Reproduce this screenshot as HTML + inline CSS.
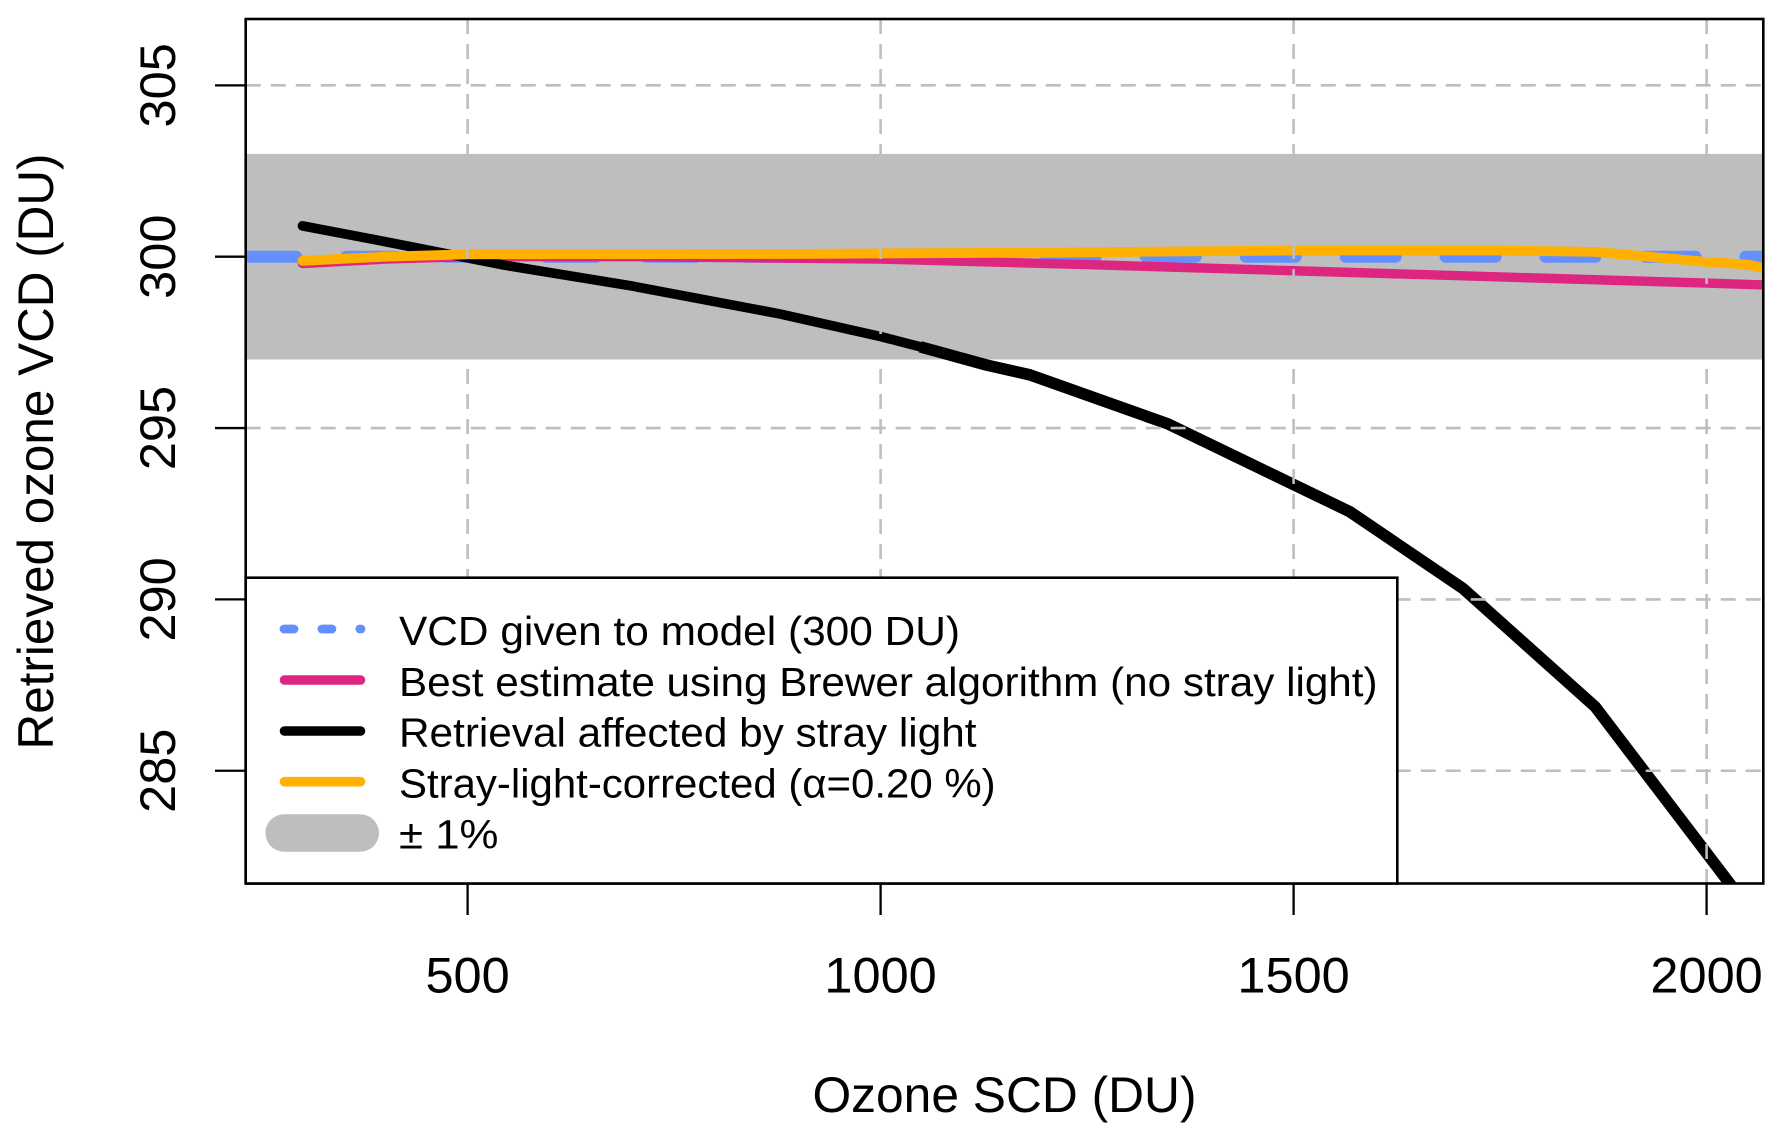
<!DOCTYPE html>
<html lang="en">
<head>
<meta charset="utf-8">
<title>Retrieved ozone VCD vs ozone SCD</title>
<style>
  html, body { margin: 0; padding: 0; background: #fff; }
  svg { display: block; }
  text { font-family: "Liberation Sans", Arial, sans-serif; fill: #000; }
</style>
</head>
<body>
<svg id="chart" xmlns="http://www.w3.org/2000/svg" width="1783" height="1142" viewBox="0 0 1783 1142">
  <defs>
    <clipPath id="plot-clip"><rect x="245.7" y="19" width="1517.6" height="864.5"></rect></clipPath>
  </defs>
  <rect x="0" y="0" width="1783" height="1142" fill="#fff"></rect>
  <g id="band-layer" clip-path="url(#plot-clip)"></g>
  <g id="series-layer" clip-path="url(#plot-clip)"></g>
  <g id="grid-layer"></g>
  <rect x="245.7" y="19" width="1517.6" height="864.5" fill="none" stroke="#000" stroke-width="2.6"></rect>
  <g id="axis-layer"></g>
  <text x="1004.5" y="1112" font-size="50.5" text-anchor="middle" textLength="384" lengthAdjust="spacingAndGlyphs">Ozone SCD (DU)</text>
  <text transform="translate(53,451.5) rotate(-90)" font-size="50" text-anchor="middle" textLength="596" lengthAdjust="spacingAndGlyphs">Retrieved ozone VCD (DU)</text>

  <g>
    <rect x="245.7" y="577.7" width="1151.6" height="305.8" fill="#fff" stroke="#000" stroke-width="2.6"></rect>
    <line x1="284" y1="629" x2="361" y2="629" stroke="#648FFF" stroke-width="8.8" stroke-linecap="round" stroke-dasharray="10 27.9"></line>
    <line x1="284.5" y1="680" x2="360.5" y2="680" stroke="#DC267F" stroke-width="9.6" stroke-linecap="round"></line>
    <line x1="284.5" y1="731" x2="360.5" y2="731" stroke="#000" stroke-width="9.6" stroke-linecap="round"></line>
    <line x1="284.5" y1="781.7" x2="360.5" y2="781.7" stroke="#FFB000" stroke-width="9.6" stroke-linecap="round"></line>
    <line x1="284.1" y1="833" x2="360.3" y2="833" stroke="#BEBEBE" stroke-width="37.4" stroke-linecap="round"></line>
    <text x="399" y="645" font-size="41" textLength="561" lengthAdjust="spacingAndGlyphs">VCD given to model (300 DU)</text>
    <text x="399" y="696" font-size="41" textLength="978.6" lengthAdjust="spacingAndGlyphs">Best estimate using Brewer algorithm (no stray light)</text>
    <text x="399" y="746.7" font-size="41" textLength="577.5" lengthAdjust="spacingAndGlyphs">Retrieval affected by stray light</text>
    <text x="399" y="797.3" font-size="41" textLength="596.6" lengthAdjust="spacingAndGlyphs">Stray-light-corrected (α=0.20 %)</text>
    <text x="399" y="848.3" font-size="41" textLength="99.5" lengthAdjust="spacingAndGlyphs">± 1%</text>
  </g>
</svg>
<script>
const xTickValues = [500, 1000, 1500, 2000];
const yTickValues = [285, 290, 295, 300, 305];
const xTickLabels = ["500", "1000", "1500", "2000"];
const yTickLabels = ["285", "290", "295", "300", "305"];

const modelScd = [232, 2068];
const modelVcd = [300, 300];

const brewerScd = [300, 400, 500, 700, 1000, 1250, 1500, 1750, 2000, 2100];
const brewerVcd = [299.80, 299.93, 300.00, 300.00, 299.93, 299.77, 299.59, 299.41, 299.23, 299.15];

const strayScd = [300, 400, 543, 700, 878, 1000, 1048, 1128, 1181, 1348, 1568, 1705, 1865, 2028, 2100];
const strayVcd = [300.90, 300.44, 299.76, 299.14, 298.33, 297.67, 297.37, 296.84, 296.55, 295.12, 292.56, 290.32, 286.87, 281.71, 279.4];

const correctedScd = [300, 400, 500, 900, 1200, 1500, 1750, 1865, 2000, 2050, 2100];
const correctedVcd = [299.88, 300.00, 300.07, 300.08, 300.12, 300.18, 300.18, 300.14, 299.85, 299.77, 299.50];

const bandLimits = [297, 303];

const NS = "http://www.w3.org/2000/svg";
const plot = { left: 245.7, right: 1763.3, top: 19, bottom: 883.5 };
const xScale = v => 467.6 + (v - 500) * 0.826;
const yScale = v => 256.7 + (300 - v) * 34.27;

function make(parent, tag, attrs) {
  const el = document.createElementNS(NS, tag);
  for (const k in attrs) el.setAttribute(k, attrs[k]);
  parent.appendChild(el);
  return el;
}
function pathFrom(xs, ys) {
  return xs.map((x, i) => (i ? "L" : "M") + xScale(x).toFixed(2) + " " + yScale(ys[i]).toFixed(2)).join(" ");
}

const bandLayer = document.getElementById("band-layer");
const seriesLayer = document.getElementById("series-layer");
const gridLayer = document.getElementById("grid-layer");
const axisLayer = document.getElementById("axis-layer");

const band = make(bandLayer, "rect", {
  x: plot.left, width: plot.right - plot.left,
  y: yScale(bandLimits[1]), height: yScale(bandLimits[0]) - yScale(bandLimits[1]),
  fill: "#BEBEBE"
});



const modelLine = make(seriesLayer, "path", {
  d: pathFrom(modelScd, modelVcd), fill: "none", stroke: "#648FFF", "stroke-width": 12,
  "stroke-linecap": "round", "stroke-dasharray": "50 49.95"
});



const brewerLine = make(seriesLayer, "path", {
  d: pathFrom(brewerScd, brewerVcd), fill: "none", stroke: "#DC267F", "stroke-width": 9.4,
  "stroke-linecap": "round", "stroke-linejoin": "round"
});



const strayLine = make(seriesLayer, "path", {
  d: pathFrom(strayScd, strayVcd), fill: "none", stroke: "#000", "stroke-width": 9.6,
  "stroke-linecap": "round", "stroke-linejoin": "round"
});



const strayLineHeavy = make(seriesLayer, "path", {
  d: pathFrom(strayScd.slice(6), strayVcd.slice(6)), fill: "none", stroke: "#000", "stroke-width": 11.6,
  "stroke-linecap": "butt", "stroke-linejoin": "round"
});



const correctedLine = make(seriesLayer, "path", {
  d: pathFrom(correctedScd, correctedVcd), fill: "none", stroke: "#FFB000", "stroke-width": 9.8,
  "stroke-linecap": "round", "stroke-linejoin": "round"
});



xTickValues.forEach((v, i) => {
  const px = xScale(v);
  const grid = make(gridLayer, "line", {
    x1: px, x2: px, y1: plot.top, y2: plot.bottom,
    stroke: "#BEBEBE", "stroke-width": 2.6, "stroke-dasharray": "15 10"
  });
  
  

  const tick = make(axisLayer, "line", {
    x1: px, x2: px, y1: plot.bottom, y2: 915, stroke: "#000", "stroke-width": 2.3
  });
  
  

  const label = make(axisLayer, "text", {
    x: px, y: 992.3, "font-size": 50.5, "text-anchor": "middle"
  });
  label.textContent = xTickLabels[i];
  
  
});

yTickValues.forEach((v, i) => {
  const py = yScale(v);
  /* the 300 DU gridline sits beneath the series, as the model line covers it in the reference */
  const grid = make(v === 300 ? bandLayer : gridLayer, "line", {
    x1: plot.left, x2: plot.right, y1: py, y2: py,
    stroke: "#BEBEBE", "stroke-width": 2.6, "stroke-dasharray": "15 10"
  });
  
  

  const tick = make(axisLayer, "line", {
    x1: 215, x2: plot.left, y1: py, y2: py, stroke: "#000", "stroke-width": 2.3
  });
  
  

  const label = make(axisLayer, "text", {
    transform: "translate(175," + py + ") rotate(-90)", "font-size": 50.5, "text-anchor": "middle"
  });
  label.textContent = yTickLabels[i];
  
  
});
</script>
</body>
</html>
